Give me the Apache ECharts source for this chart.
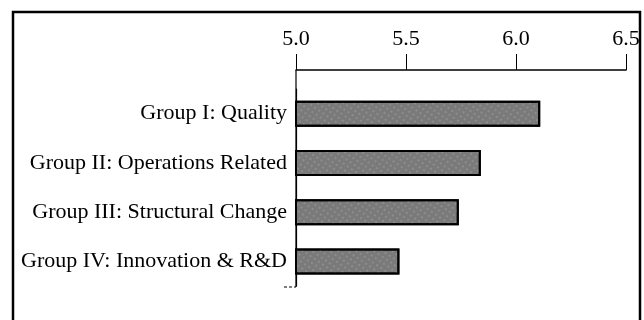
<!DOCTYPE html>
<html>
<head>
<meta charset="utf-8">
<script src="https://cdn.jsdelivr.net/npm/echarts@6/dist/echarts.min.js"></script>
<style>
  html, body { margin: 0; padding: 0; background: #fff; }
  #ct { width: 644px; height: 320px; }
</style>
</head>
<body>
<div id="ct"></div>
<script>
// data
const groups = [
  'Group I: Quality',
  'Group II: Operations Related',
  'Group III: Structural Change',
  'Group IV: Innovation & R&D'
];
const scores = [6.11, 5.84, 5.74, 5.47];
const tickLabels = ['5.0', '5.5', '6.0', '6.5'];

const chart = echarts.init(document.getElementById('ct'));
const font = '"Liberation Serif", "DejaVu Serif", serif';

const option = {
  animation: false,
  backgroundColor: '#fff',
  textStyle: { fontFamily: font },
  grid: { top: 89, left: 296, right: 18, bottom: 34 },
  xAxis: {
    type: 'value',
    position: 'top',
    offset: 19,
    min: 5,
    max: 6.5,
    interval: 0.5,
    splitLine: { show: false },
    axisLine: { show: true, lineStyle: { color: '#000', width: 1.5 } },
    axisTick: { show: true, inside: false, length: 16, lineStyle: { color: '#000', width: 1 } },
    axisLabel: {
      color: '#000',
      fontSize: 22,
      fontFamily: font,
      margin: 20,
      formatter: v => tickLabels[Math.round((v - 5) / 0.5)] || ''
    }
  },
  yAxis: {
    type: 'category',
    inverse: true,
    data: groups,
    axisLine: { show: true, lineStyle: { color: '#000', width: 1.2 } },
    axisTick: { show: false },
    axisLabel: { color: '#000', fontSize: 22, fontFamily: font, margin: 9 }
  },
  series: [{
    type: 'bar',
    data: scores,
    barWidth: 26,
    itemStyle: {
      color: '#7a7a7a',
      borderColor: '#000',
      borderWidth: 2,
      decal: {
        symbol: 'rect',
        symbolSize: 0.5,
        dashArrayX: [2, 3],
        dashArrayY: [2, 3],
        color: 'rgba(255,255,255,0.55)',
        rotation: 0.6
      }
    }
  }]
};
option.aria = { enabled: true, decal: { show: true } };

chart.setOption(option);

// outer frame + extension of the vertical axis up to the top axis line
const x0 = chart.convertToPixel({ xAxisIndex: 0 }, 5);
chart.setOption({
  graphic: [
    {
      type: 'rect',
      shape: { x: 13, y: 12, width: 627, height: 330 },
      style: { fill: 'none', stroke: '#000', lineWidth: 2.5 },
      silent: true
    },
    {
      type: 'line',
      shape: { x1: x0, y1: 70, x2: x0, y2: 287 },
      style: { stroke: '#000', lineWidth: 1.2 },
      silent: true
    },
    {
      type: 'line',
      shape: { x1: x0 - 12, y1: 287, x2: x0, y2: 287 },
      style: { stroke: '#000', lineWidth: 1, lineDash: [3, 2] },
      silent: true
    }
  ]
});
</script>
</body>
</html>
